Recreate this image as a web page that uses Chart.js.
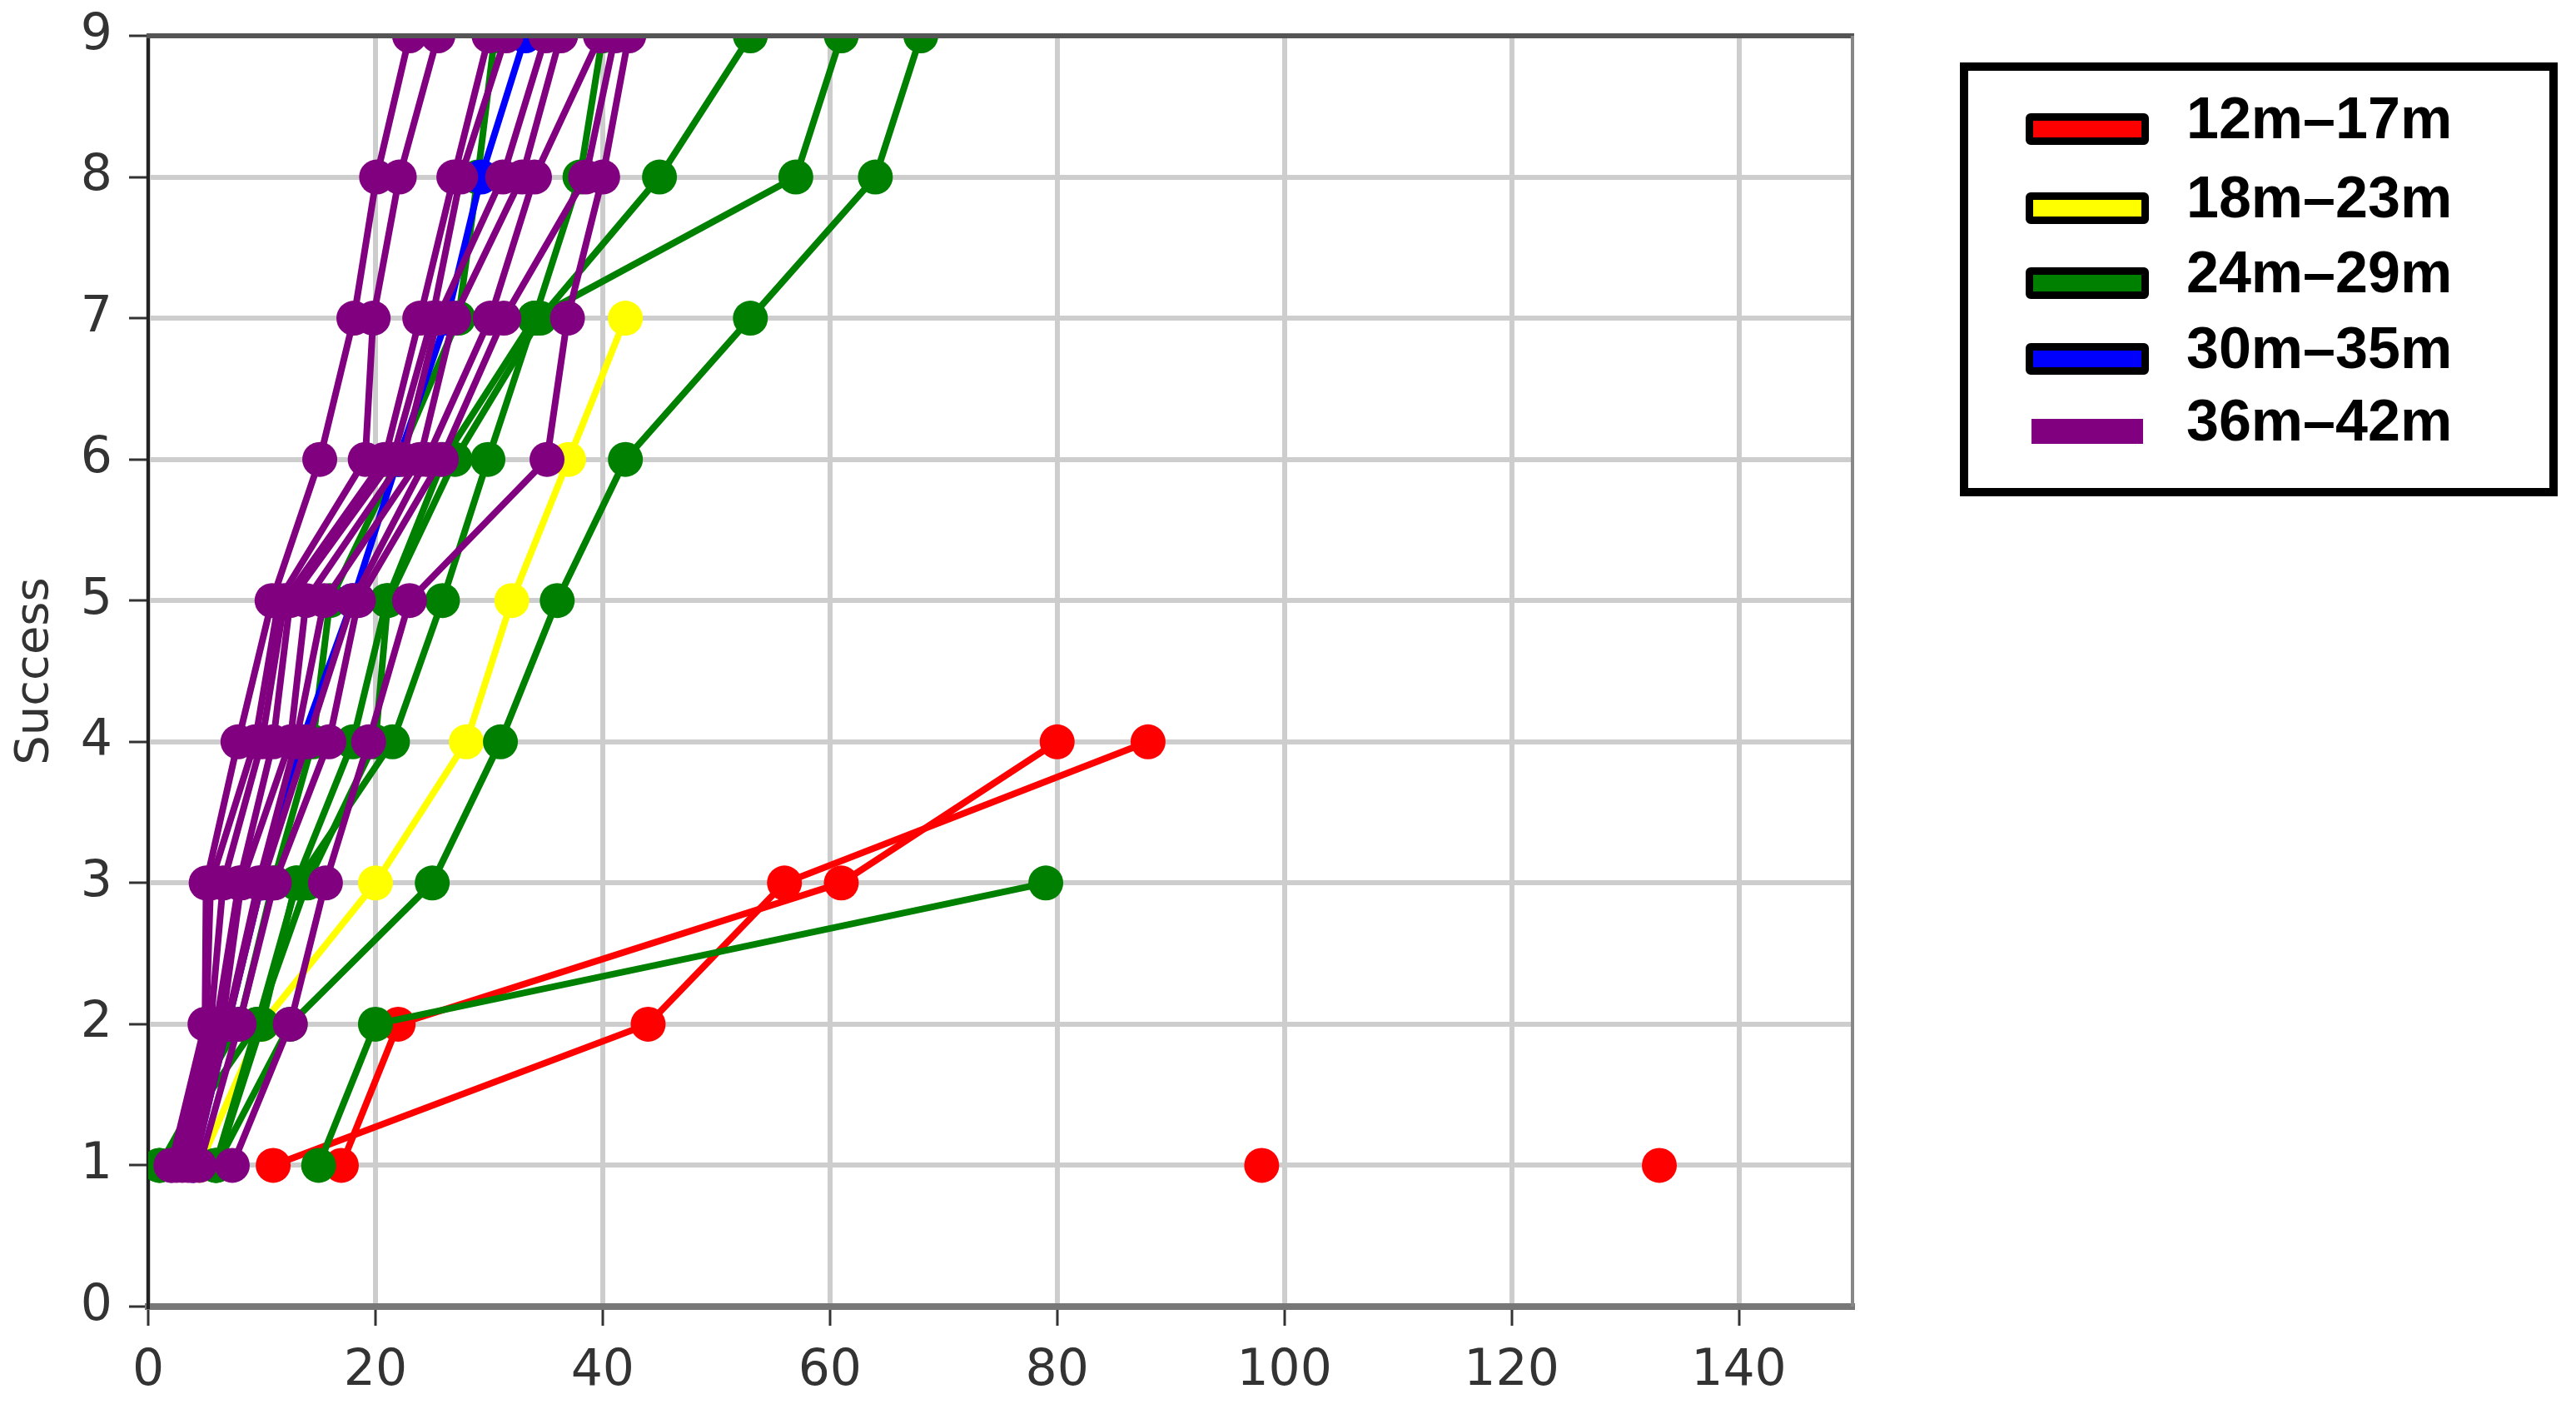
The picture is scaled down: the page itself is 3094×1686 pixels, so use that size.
<!DOCTYPE html>
<html>
<head>
<meta charset="utf-8">
<script src="https://cdn.jsdelivr.net/npm/chart.js@4.4.1/dist/chart.umd.min.js"></script>
<style>
  body { margin: 0; background: #fff; }
  #wrap { position: relative; width: 3094px; height: 1686px; }
  #legendBox {
    position: absolute; left: 2354px; top: 75px; width: 718px; height: 521px;
    border: 10px solid #000; box-sizing: border-box; background: #fff;
  }
  .item { position: absolute; left: 69px; height: 60px; }
  .swatch { position: absolute; left: 0; top: 10px; width: 148px; height: 38px;
    box-sizing: border-box; border: 9px solid #000; border-radius: 6px; }
  .swatch.plain { border: none; border-radius: 0; left: 7px; width: 134px; height: 30px; top: 14px; }
  .lab { position: absolute; left: 193px; top: -24px; white-space: nowrap;
    font: bold 70px "Liberation Sans", Arial, sans-serif; color: #000; line-height: 80px; }
</style>
</head>
<body>
<div id="wrap">
  <canvas id="myChart"></canvas>
  <div id="legendBox"></div>
</div>
<script>
// success levels (y) and ticks
var successLevels = [1, 2, 3, 4, 5, 6, 7, 8, 9];
var xTicks = [0, 20, 40, 60, 80, 100, 120, 140];
var yTicks = [0, 1, 2, 3, 4, 5, 6, 7, 8, 9];

var groupNames = ['12m\u201317m', '18m\u201323m', '24m\u201329m', '30m\u201335m', '36m\u201342m'];
var groupColors = ['#ff0000', '#ffff00', '#008000', '#0000ff', '#800080'];

// each row = one child, value at success 1, 2, 3 ...
var red12to17 = [
  [11, 44, 56, 88],
  [17, 22, 61, 80],
  [98],
  [133]
];
var yellow18to23 = [
  [4.5, 10, 20, 28, 32, 37, 42]
];
var green24to29 = [
  [6, 12.5, 25, 31, 36, 42, 53, 64, 68],
  [1, 9.6, 13.1, 21.5, 25.9, 29.9, 34, 57, 61],
  [5.9, 9.6, 14, 20, 21.1, 27, 34.5, 45, 53],
  [6, 10, 13, 18, 21, 26, 34, 38, 40],
  [1, 8, 11, 14.5, 16, 22, 27.3, 29, 30.5],
  [15, 20, 79]
];
var blue30to35 = [
  [4, 7, 10, 13.5, 18, 22, 26.3, 29.3, 33.2]
];
var purple36to42 = [
  [2, 5, 5.1, 7.9, 10.9, 15.1, 18.1, 20.1, 23],
  [2.1, 5.1, 5.5, 9.4, 11.5, 19.1, 19.8, 22.1, 25.5],
  [2.5, 5.5, 6.6, 10, 12, 20.8, 23.9, 26.9, 30],
  [3, 6, 8, 11, 12.5, 21.5, 25, 27.5, 31.5],
  [3.5, 6.5, 8.2, 12.5, 13.9, 22.4, 25.5, 31.2, 35],
  [3.8, 6.9, 9.7, 13, 15.5, 23.9, 26.9, 32.9, 36.3],
  [4, 7, 10, 14, 18, 24.5, 30.1, 34, 39.8],
  [4.5, 8, 11.1, 15.9, 18.5, 25.8, 31.3, 38.5, 41.1],
  [7.4, 12.5, 15.6, 19.4, 23, 35.1, 36.9, 40, 42.3]
];

var groups = [red12to17, yellow18to23, green24to29, blue30to35, purple36to42];

// build datasets, later groups on top
var datasets = [];
for (var g = 0; g < groups.length; g++) {
  groups[g].forEach(function(row) {
    datasets.unshift({
      data: row.map(function(t, i) { return { x: t, y: successLevels[i] }; }),
      borderColor: groupColors[g],
      backgroundColor: groupColors[g],
      borderWidth: 8,
      pointRadius: 21,
      pointBorderWidth: 0,
      pointHoverRadius: 21,
      tension: 0
    });
  });
}

// legend
var box = document.getElementById('legendBox');
var rowTops = [41, 136, 226, 317, 404];
groupNames.forEach(function(name, i) {
  var it = document.createElement('div');
  it.className = 'item';
  it.style.top = rowTops[i] + 'px';
  var sw = document.createElement('div');
  sw.className = 'swatch' + (i == groupNames.length - 1 ? ' plain' : '');
  sw.style.background = groupColors[i];
  var lb = document.createElement('div');
  lb.className = 'lab';
  lb.textContent = name;
  it.appendChild(sw);
  it.appendChild(lb);
  box.appendChild(it);
});

// top and right spines
var frame = {
  id: 'frame',
  afterDraw: function(chart) {
    var a = chart.chartArea, c = chart.ctx;
    c.save();
    c.strokeStyle = '#555';
    c.lineWidth = 6;
    c.beginPath(); c.moveTo(a.left - 2, a.top); c.lineTo(a.right + 2, a.top); c.stroke();
    c.strokeStyle = '#888';
    c.lineWidth = 4;
    c.beginPath(); c.moveTo(a.right, a.top); c.lineTo(a.right, a.bottom); c.stroke();
    c.restore();
  }
};

var tickFont = { family: 'DejaVu Sans', size: 60, lineHeight: 0.7 };

var ctx = document.getElementById('myChart').getContext('2d');
var chart = new Chart(ctx, {
  type: 'line',
  data: { datasets: datasets },
  options: {
    responsive: true,
    maintainAspectRatio: false,
    animation: false,
    layout: { padding: { top: 43, right: 869, bottom: 0, left: 0 } },
    plugins: { legend: { display: false }, tooltip: { enabled: false } },
    scales: {
      x: {
        type: 'linear', min: 0, max: 150,
        afterBuildTicks: function(s) { s.ticks = xTicks.map(function(v) { return { value: v }; }); },
        afterFit: function(s) { s.height = 117; },
        ticks: { font: tickFont, color: '#333', padding: 34, maxRotation: 0 },
        grid: { color: '#cdcdcd', lineWidth: 6, tickLength: 23, tickColor: '#333', tickWidth: 3 },
        border: { color: '#777', width: 8 }
      },
      y: {
        type: 'linear', min: 0, max: 9,
        afterBuildTicks: function(s) { s.ticks = yTicks.map(function(v) { return { value: v }; }); },
        afterFit: function(s) { s.width = 178; },
        ticks: { font: tickFont, color: '#333', padding: 20 },
        grid: { color: '#cdcdcd', lineWidth: 6, tickLength: 23, tickColor: '#333', tickWidth: 3 },
        border: { color: '#222', width: 4 },
        title: { display: true, text: 'Success', color: '#333',
          font: { family: 'DejaVu Sans', size: 56 }, padding: { top: 9, bottom: 0 } }
      }
    }
  },
  plugins: [frame]
});
</script>
</body>
</html>
